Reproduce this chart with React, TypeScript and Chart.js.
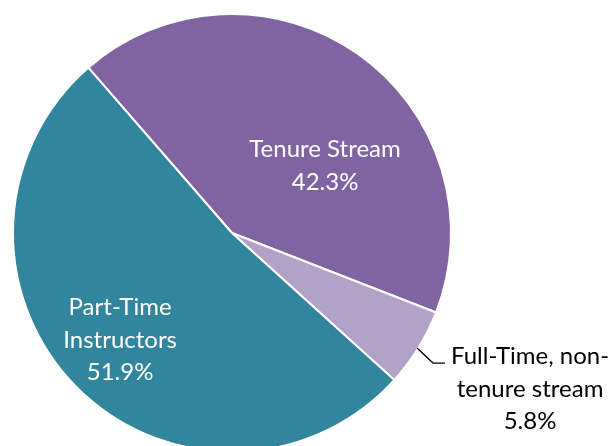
import React, { useEffect, useRef } from "react";
import { Chart, registerables } from "chart.js";

Chart.register(...registerables);

const categories = ["Tenure Stream", "Full-Time, non-tenure stream", "Part-Time Instructors"];
const values = [42.3, 5.8, 51.9];
const labelLines = [
  ["Tenure Stream", "42.3%"],
  ["Full-Time, non-", "tenure stream", "5.8%"],
  ["Part-Time", "Instructors", "51.9%"],
];
const colors = ["#8064A2", "#B3A2C7", "#31859C"];
const textColors = ["#FFFFFF", "#000000", "#FFFFFF"];

// label anchor offsets in units of the pie radius
const labelAnchors = [
  [0.425, -0.306],
  [1.361, 0.712],
  [-0.511, 0.489],
];
const leader = [
  [0.845, 0.525],
  [0.918, 0.594],
  [0.973, 0.594],
];

const FONT = "Lato, 'Open Sans', sans-serif";

const labelPlugin = {
  id: "sliceLabels",
  afterDatasetsDraw(chart: any) {
    const ctx = chart.ctx;
    const meta = chart.getDatasetMeta(0);
    const arc0 = meta.data[0] as any;
    const cx = arc0.x;
    const cy = arc0.y;
    const R = arc0.outerRadius;
    ctx.save();
    ctx.font = `24px ${FONT}`;
    ctx.textAlign = "center";
    ctx.textBaseline = "middle";
    const lh = 32.5;
    meta.data.forEach((_: any, i: number) => {
      const lines = labelLines[i];
      const ax = cx + labelAnchors[i][0] * R;
      const ay = cy + labelAnchors[i][1] * R;
      ctx.fillStyle = textColors[i];
      const start = ay - ((lines.length - 1) * lh) / 2;
      lines.forEach((t, j) => ctx.fillText(t, ax, start + j * lh));
    });
    ctx.strokeStyle = "#000000";
    ctx.lineWidth = 1.3;
    ctx.beginPath();
    leader.forEach((p, j) => {
      const x = cx + p[0] * R;
      const y = cy + p[1] * R;
      if (j === 0) ctx.moveTo(x, y);
      else ctx.lineTo(x, y);
    });
    ctx.stroke();
    ctx.restore();
  },
};

export default function App() {
  const ref = useRef<HTMLCanvasElement>(null);
  useEffect(() => {
    if (!ref.current) return;
    const chart = new Chart(ref.current, {
      type: "pie",
      data: {
        labels: categories,
        datasets: [
          {
            data: values,
            backgroundColor: colors,
            borderColor: "#FFFFFF",
            borderWidth: 2,
          },
        ],
      },
      options: {
        responsive: false,
        animation: false,
        rotation: -41,
        radius: 219,
        layout: { padding: { left: 0, right: 149, top: 0, bottom: 0 } },
        plugins: {
          legend: { display: false },
          tooltip: { enabled: false },
        },
      },
      plugins: [labelPlugin],
    });
    return () => chart.destroy();
  }, []);
  return (
    <div
      style={{
        position: "fixed",
        left: 0,
        top: 0,
        width: 613,
        height: 446,
        overflow: "hidden",
        background: "#FFFFFF",
      }}
    >
      <canvas ref={ref} width={613} height={466} style={{ display: "block" }} />
    </div>
  );
}
